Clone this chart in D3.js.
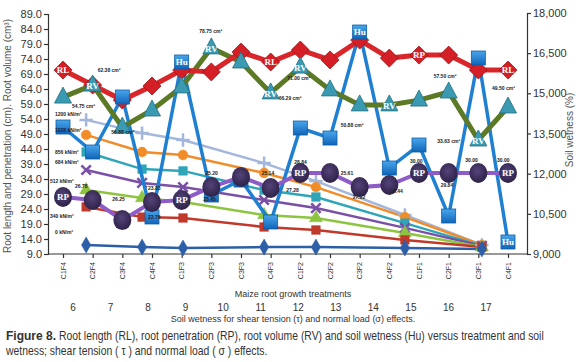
<!DOCTYPE html>
<html>
<head>
<meta charset="utf-8">
<script src="https://cdn.jsdelivr.net/npm/d3@7"></script>
<style>
  body { margin: 0; background: #fff; }
  svg { display: block; font-family: "Liberation Sans Narrow", "Liberation Sans", Arial, sans-serif; }
</style>
</head>
<body>
<div class="graph_fig8"></div>
<script>
// treatments on the bottom axis
const categories = ["C1F4","C2F4","C3F4","C4F4","C1F3","C2F3","C3F3","C4F3",
                    "C1F2","C2F2","C3F2","C4F2","C1F1","C2F1","C3F1","C4F1"];

// root length, root volume, root penetration (left axis) and soil wetness (right axis)
const rlValues = [70.3, 65.3, 60.3, 65.0, 70.3, 69.7, 76.3, 73.0, 77.0, 73.7, 80.3, 74.3, 75.3, 75.3, 70.3, 70.3];
const rvValues = [61.3, 65.3, 51.3, 57.0, 64.7, 77.7, 73.0, 62.7, 71.3, 63.7, 58.7, 58.7, 60.3, 63.0, 47.0, 58.0];
const rpValues = [28.0, 27.0, 20.3, 26.3, 27.0, 31.3, 34.7, 31.0, 36.0, 36.0, 31.3, 32.0, 36.0, 36.0, 36.0, 36.0];
const huValues = [13742, 12809, 14862, 10382, 16170, 11203, 11763, 10195, 13705, 13331, 17290, 12211, 13070, 10419, 16319, 9448];

// tags drawn inside the big markers (index -> text)
const rlTags = {0: "RL", 7: "RL", 12: "RP", 15: "RL"};
const rvTags = {1: "RV", 5: "RV", 7: "RV", 8: "RV", 11: "RV", 14: "RV"};
const huTags = {4: "Hu", 10: "Hu", 15: "Hu"};
const rpTags = {0: "RP", 4: "RP", 8: "RP", 12: "RP", 15: "RP"};

// soil wetness scale for the normal load lines
const wetnessTicks = [6, 7, 8, 9, 10, 11, 12, 13, 14, 15, 16, 17];
const loadWetness = [6.35, 7.84, 8.93, 11.09, 12.47, 14.84, 16.89];
const loadNames = ["1200 kN/m²", "1028 kN/m²", "856 kN/m²", "684 kN/m²", "512 kN/m²", "340 kN/m²", "0 kN/m²"];
const loadValues = [
  [53.7, 49.3, 47.0, 39.3, 33.3, 22.0, 12.0],
  [48.7, 43.0, 42.0, 36.0, 31.3, 21.3, 12.0],
  [43.0, 37.3, 36.7, 30.3, 28.0, 19.3, 11.7],
  [37.0, 32.7, 31.3, 27.0, 24.3, 17.7, 11.7],
  [30.3, 27.7, 26.3, 22.0, 21.0, 16.0, 11.3],
  [24.7, 21.3, 21.0, 18.0, 17.0, 13.7, 11.3],
  [12.0, 11.3, 11.0, 11.3, 11.3, 11.0, 10.7]
];

// value notes written next to the points
const rvNotes = [[0, "54.75 cm³"], [1, "62.38 cm³"], [2, "56.88 cm³"], [5, "78.75 cm³"], [7, "66.29 cm³"],
                 [8, "71.00 cm³"], [10, "50.88 cm³"], [13, "57.50 cm³"], [14, "33.63 cm³"], [15, "49.50 cm³"]];
const rpNotes = [[0, "26.78"], [2, "26.25"], [3, "23.83"], [3, "22.76"], [5, "25.20"], [5, "25.45"],
                 [7, "25.14"], [8, "27.28"], [8, "28.84"], [10, "25.61"], [10, "27.92"], [11, "26.44"],
                 [12, "30.00"], [13, "29.84"], [14, "30.00"], [15, "30.00"]];

const leftTicks = d3.range(9, 90, 5);
const rightTicks = [9000, 10500, 12000, 13500, 15000, 16500, 18000];

show_chart();

function show_chart(){
  const width = 580, height = 362;
  const margin = {top: 14, bottom: 108, left: 48, right: 53};

  const svg = d3.select(".graph_fig8").append("svg").attr("width", width).attr("height", height);

  // soft gradients for the square / round markers
  const defs = svg.append("defs");
  const gSq = defs.append("linearGradient").attr("id", "huGrad").attr("x1", 0).attr("y1", 0).attr("x2", 0).attr("y2", 1);
  gSq.append("stop").attr("offset", "0%").attr("stop-color", "#4aa6ec");
  gSq.append("stop").attr("offset", "100%").attr("stop-color", "#0f64b8");
  const gRp = defs.append("radialGradient").attr("id", "rpGrad").attr("cx", 0.45).attr("cy", 0.4).attr("r", 0.6);
  gRp.append("stop").attr("offset", "0%").attr("stop-color", "#54447a");
  gRp.append("stop").attr("offset", "100%").attr("stop-color", "#2e2247");

  const x = d3.scalePoint().domain(categories).range([63, 508]);
  const xw = d3.scaleLinear().domain([6, 17]).range([73, 486]);
  const yL = d3.scaleLinear().domain([9, 89]).range([height - margin.bottom, margin.top]);
  const yR = d3.scaleLinear().domain([9000, 18000]).range([height - margin.bottom, 13]);

  const loadColors = ["#a3b7dc", "#f28c28", "#2ea6b8", "#7a4fa6", "#8dc440", "#c0392b", "#2c5fa8"];

  // axes
  const yAxisL = d3.axisLeft(yL).tickValues(leftTicks).tickFormat(d3.format(".1f")).tickSize(4).tickPadding(2);
  const gl = svg.append("g").attr("transform", `translate(${margin.left},0)`).call(yAxisL);
  gl.selectAll("text").attr("font-size", 11).attr("fill", "#333");

  const yAxisR = d3.axisRight(yR).tickValues(rightTicks).tickFormat(d3.format(",")).tickSize(4).tickPadding(2);
  const gr = svg.append("g").attr("transform", `translate(${width - margin.right},0)`).call(yAxisR);
  gr.selectAll("text").attr("font-size", 11).attr("fill", "#333");

  const xAxis = d3.axisBottom(x).tickSize(4).tickSizeOuter(0).tickFormat("");
  const gx = svg.append("g").attr("transform", `translate(0,${height - margin.bottom})`).call(xAxis);
  gx.select(".domain").attr("d", `M${margin.left},0H${width - margin.right}`);
  svg.selectAll(".domain, .tick line").attr("stroke", "#333").attr("stroke-width", 1.2);

  svg.append("g").selectAll("text").data(categories).join("text")
    .attr("transform", d => `translate(${x(d) + 2.5},${height - margin.bottom + 8}) rotate(-90)`)
    .attr("text-anchor", "end")
    .attr("font-size", 7)
    .attr("fill", "#333")
    .text(d => d);

  svg.append("text").attr("x", 293).attr("y", 297).attr("text-anchor", "middle")
    .attr("font-size", 9).attr("fill", "#333").text("Maize root growth treatments");
  svg.append("g").selectAll("text").data(wetnessTicks).join("text")
    .attr("x", d => xw(d)).attr("y", 311).attr("text-anchor", "middle")
    .attr("font-size", 10).attr("fill", "#333").text(d => d);
  svg.append("text").attr("x", 293).attr("y", 322).attr("text-anchor", "middle")
    .attr("font-size", 9).attr("fill", "#333").text("Soil wetness for shear tension (τ) and normal load (σ) effects.");

  svg.append("text")
    .attr("transform", `translate(11,${margin.top + 122}) rotate(-90)`)
    .attr("text-anchor", "middle").attr("font-size", 10).attr("fill", "#555")
    .text("Root length and penetration (cm). Root volume (cm³)");
  svg.append("text")
    .attr("transform", `translate(573,130) rotate(-90)`)
    .attr("text-anchor", "middle").attr("font-size", 10).attr("fill", "#555")
    .text("Soil wetness (%)");

  // normal load lines
  const loadLine = d3.line().x((d, i) => xw(loadWetness[i])).y(d => yL(d));
  const gLoad = svg.append("g");
  gLoad.selectAll("path").data(loadValues).join("path")
    .attr("d", d => loadLine(d))
    .attr("fill", "none")
    .attr("stroke", (d, i) => loadColors[i])
    .attr("stroke-width", 2.5);

  const loadSymbols = [d3.symbolPlus, d3.symbolCircle, d3.symbolSquare, d3.symbolTimes,
                       d3.symbolTriangle, d3.symbolSquare, d3.symbolDiamond];
  loadValues.forEach((vals, k) => {
    const stroked = k === 0 || k === 3;
    gLoad.append("g").selectAll("path").data(vals).join("path")
      .attr("transform", (d, i) => `translate(${xw(loadWetness[i])},${yL(d)})`)
      .attr("d", d3.symbol().type(loadSymbols[k]).size(stroked ? 60 : 75))
      .attr("fill", stroked ? "none" : loadColors[k])
      .attr("stroke", loadColors[k])
      .attr("stroke-width", stroked ? 2.5 : 0.5);
  });

  // main series lines
  const catLine = yScale => d3.line().x((d, i) => x(categories[i])).y(d => yScale(d));
  svg.append("path").attr("d", catLine(yR)(huValues))
    .attr("fill", "none").attr("stroke", "#1f80d2").attr("stroke-width", 3.5);
  svg.append("path").attr("d", catLine(yL)(rvValues))
    .attr("fill", "none").attr("stroke", "#5c7a26").attr("stroke-width", 5);
  svg.append("path").attr("d", catLine(yL)(rlValues))
    .attr("fill", "none").attr("stroke", "#d8262b").attr("stroke-width", 5);
  svg.append("path").attr("d", catLine(yL)(rpValues))
    .attr("fill", "none").attr("stroke", "#8d5cc6").attr("stroke-width", 4);

  // markers
  svg.append("g").selectAll("path").data(rlValues).join("path")
    .attr("transform", (d, i) => `translate(${x(categories[i])},${yL(d)})`)
    .attr("d", "M0,-9L9,0L0,9L-9,0Z")
    .attr("fill", "#d41f26").attr("stroke", "#9a1418").attr("stroke-width", 0.8);
  svg.append("g").selectAll("path").data(rvValues).join("path")
    .attr("transform", (d, i) => `translate(${x(categories[i])},${yL(d)})`)
    .attr("d", "M0,-10L8.5,6L-8.5,6Z")
    .attr("fill", "#3a9ab2").attr("stroke", "#256d80").attr("stroke-width", 0.8);
  svg.append("g").selectAll("rect").data(huValues).join("rect")
    .attr("x", (d, i) => x(categories[i]) - 7)
    .attr("y", d => yR(d) - 7)
    .attr("width", 14).attr("height", 14)
    .attr("fill", "url(#huGrad)").attr("stroke", "#0d5ea6").attr("stroke-width", 0.8);
  svg.append("g").selectAll("ellipse").data(rpValues).join("ellipse")
    .attr("cx", (d, i) => x(categories[i]))
    .attr("cy", d => yL(d))
    .attr("rx", 9).attr("ry", 10)
    .attr("fill", "url(#rpGrad)");

  // load labels on top of the markers, as in the figure
  loadValues.forEach((vals, k) => {
    svg.append("text")
      .attr("x", 55 - (k === 4 || k === 5 ? 5 : 0))
      .attr("y", yL(vals[0]) + [-4, -3, 2, -6, -7, 11, -11][k])
      .attr("font-size", 5).attr("font-weight", "bold").attr("fill", "#222")
      .text(loadNames[k]);
  });

  // tags inside markers
  const tag = (tags, values, yScale, dy) => {
    svg.append("g").selectAll("text").data(Object.entries(tags)).join("text")
      .attr("x", d => x(categories[+d[0]]))
      .attr("y", d => yScale(values[+d[0]]) + dy)
      .attr("text-anchor", "middle")
      .attr("font-family", "Liberation Serif, serif")
      .attr("font-weight", "bold")
      .attr("font-size", 9)
      .attr("fill", "#fff")
      .text(d => d[1]);
  };
  tag(rlTags, rlValues, yL, 3);
  tag(rvTags, rvValues, yL, 4);
  tag(huTags, huValues, yR, 3);
  tag(rpTags, rpValues, yL, 3);

  // value notes
  const rvOffsets = [[9, 11], [5, -13], [-11, 7], [-12, -15], [8, 7], [-13, 13], [-19, 22], [-15, -14], [-41, 3], [-16, -17]];
  svg.append("g").selectAll("text").data(rvNotes).join("text")
    .attr("x", (d, k) => x(categories[d[0]]) + rvOffsets[k][0])
    .attr("y", (d, k) => yL(rvValues[d[0]]) + rvOffsets[k][1])
    .attr("font-size", 5).attr("font-weight", "bold").attr("fill", "#222")
    .text(d => d[1]);

  const rpOffsets = [[12, -9], [-10, -19], [-4, -12], [-4, 17], [-6, -12], [-8, 14], [-9, -13], [-14, 19],
                     [-6, -9], [-19, -12], [-7, 12], [1, 8], [-9, -10], [-8, 14], [-13, -11], [-11, -11]];
  svg.append("g").selectAll("text").data(rpNotes).join("text")
    .attr("x", (d, k) => x(categories[d[0]]) + rpOffsets[k][0])
    .attr("y", (d, k) => yL(rpValues[d[0]]) + rpOffsets[k][1])
    .attr("font-size", 5).attr("font-weight", "bold").attr("fill", "#222")
    .text(d => d[1]);

  // caption: bold lead, then the rest squeezed horizontally to end where the figure's line ends
  const lead = svg.append("text").attr("x", 6).attr("y", 340).attr("font-size", 12)
    .attr("font-weight", "bold").attr("fill", "#333").text("Figure 8.");
  const restX = 6 + lead.node().getComputedTextLength() + 3;
  const rest = svg.append("text").attr("font-size", 12).attr("fill", "#333")
    .text("Root length (RL), root penetration (RP), root volume (RV) and soil wetness (Hu) versus treatment and soil");
  const sx = Math.min(1, (544 - restX) / rest.node().getComputedTextLength());
  rest.attr("transform", `translate(${restX},340) scale(${sx},1)`);
  svg.append("text").attr("font-size", 12).attr("fill", "#333")
    .attr("transform", `translate(6,355) scale(${sx},1)`)
    .text("wetness; shear tension ( τ ) and normal load ( σ ) effects.");

  return svg.node();
}
</script>
</body>
</html>
